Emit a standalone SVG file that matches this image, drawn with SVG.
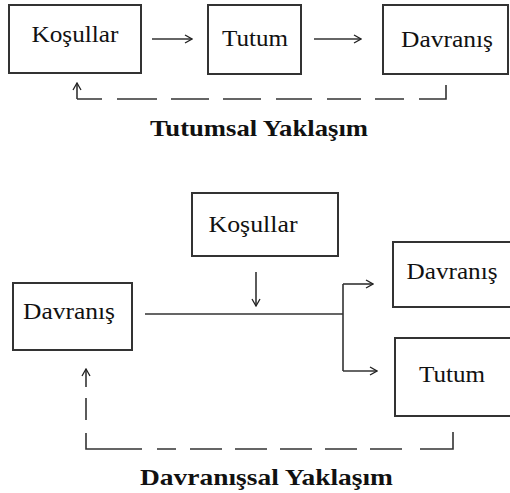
<svg xmlns="http://www.w3.org/2000/svg" width="510" height="493" viewBox="0 0 510 493">
<defs>
<marker id="ah" viewBox="0 0 10 10" refX="9" refY="5" markerWidth="10" markerHeight="10" markerUnits="userSpaceOnUse" orient="auto">
<polyline points="2,1 9,5 2,9" fill="none" stroke="#222" stroke-width="1.3"/>
</marker>
</defs>
<style>
.box{fill:#fff;stroke:#333;stroke-width:2}
.lbl{font-size:23px;fill:#111;text-anchor:middle}
.ttl{font-size:23px;font-weight:bold;fill:#111}
.ln{fill:none;stroke:#333;stroke-width:1.6}
.arr{fill:none;stroke:#333;stroke-width:1.6;marker-end:url(#ah)}
</style>
<rect width="510" height="493" fill="#fff"/>

<g font-family="'Liberation Serif', 'Times New Roman', 'DejaVu Serif', serif">
<!-- Top diagram -->
<g id="top-kosullar"><rect class="box" x="9" y="5" width="132" height="68"/><text class="lbl" x="75" y="42" textLength="87" lengthAdjust="spacingAndGlyphs">Koşullar</text></g>
<g id="top-tutum"><rect class="box" x="208" y="5" width="93" height="69"/><text class="lbl" x="255" y="46" textLength="66" lengthAdjust="spacingAndGlyphs">Tutum</text></g>
<g id="top-davranis"><rect class="box" x="383" y="5" width="125" height="69"/><text class="lbl" x="447" y="47" textLength="92" lengthAdjust="spacingAndGlyphs">Davranış</text></g>
<text id="title1" class="ttl" x="150" y="136" textLength="218" lengthAdjust="spacingAndGlyphs">Tutumsal Yaklaşım</text>

<!-- Bottom diagram -->
<g id="bot-kosullar"><rect class="box" x="192" y="193" width="146" height="63"/><text class="lbl" x="253" y="232" textLength="89" lengthAdjust="spacingAndGlyphs">Koşullar</text></g>
<g id="bot-davranis-left"><rect class="box" x="13" y="283" width="119" height="67"/><text class="lbl" x="69" y="319" textLength="92" lengthAdjust="spacingAndGlyphs">Davranış</text></g>
<g id="bot-davranis-right"><rect class="box" x="393" y="242" width="122" height="65"/><text class="lbl" x="452" y="279" textLength="91" lengthAdjust="spacingAndGlyphs">Davranış</text></g>
<g id="bot-tutum"><rect class="box" x="395" y="338" width="120" height="78"/><text class="lbl" x="452" y="382" textLength="66" lengthAdjust="spacingAndGlyphs">Tutum</text></g>
<text id="title2" class="ttl" x="140" y="485" textLength="253" lengthAdjust="spacingAndGlyphs">Davranışsal Yaklaşım</text>
</g>

<g id="connectors">
<line class="arr" x1="152" y1="39" x2="192" y2="39"/>
<line class="arr" x1="314" y1="39" x2="361" y2="39"/>
<path class="ln" d="M446 85 V99 H419 M404 99 H375 M361 99 H327 M312 99 H276 M261 99 H223 M209 99 H171 M157 99 H117 M102 99 H77"/>
<line class="arr" x1="77" y1="99" x2="77" y2="83"/>
<line class="arr" x1="256" y1="272" x2="256" y2="306"/>
<path class="ln" d="M145 314 H343 M343 284 V371"/>
<line class="arr" x1="343" y1="284" x2="373" y2="284"/>
<line class="arr" x1="343" y1="371" x2="377" y2="371"/>
<path class="ln" d="M453 432 V449 H420 M402 449 H370 M357 449 H325 M312 449 H280 M267 449 H235 M222 449 H190 M176 449 H157 M142 449 H86 V433 M86 420 V398"/>
<line class="arr" x1="86" y1="387" x2="86" y2="369"/>
</g>
</svg>
